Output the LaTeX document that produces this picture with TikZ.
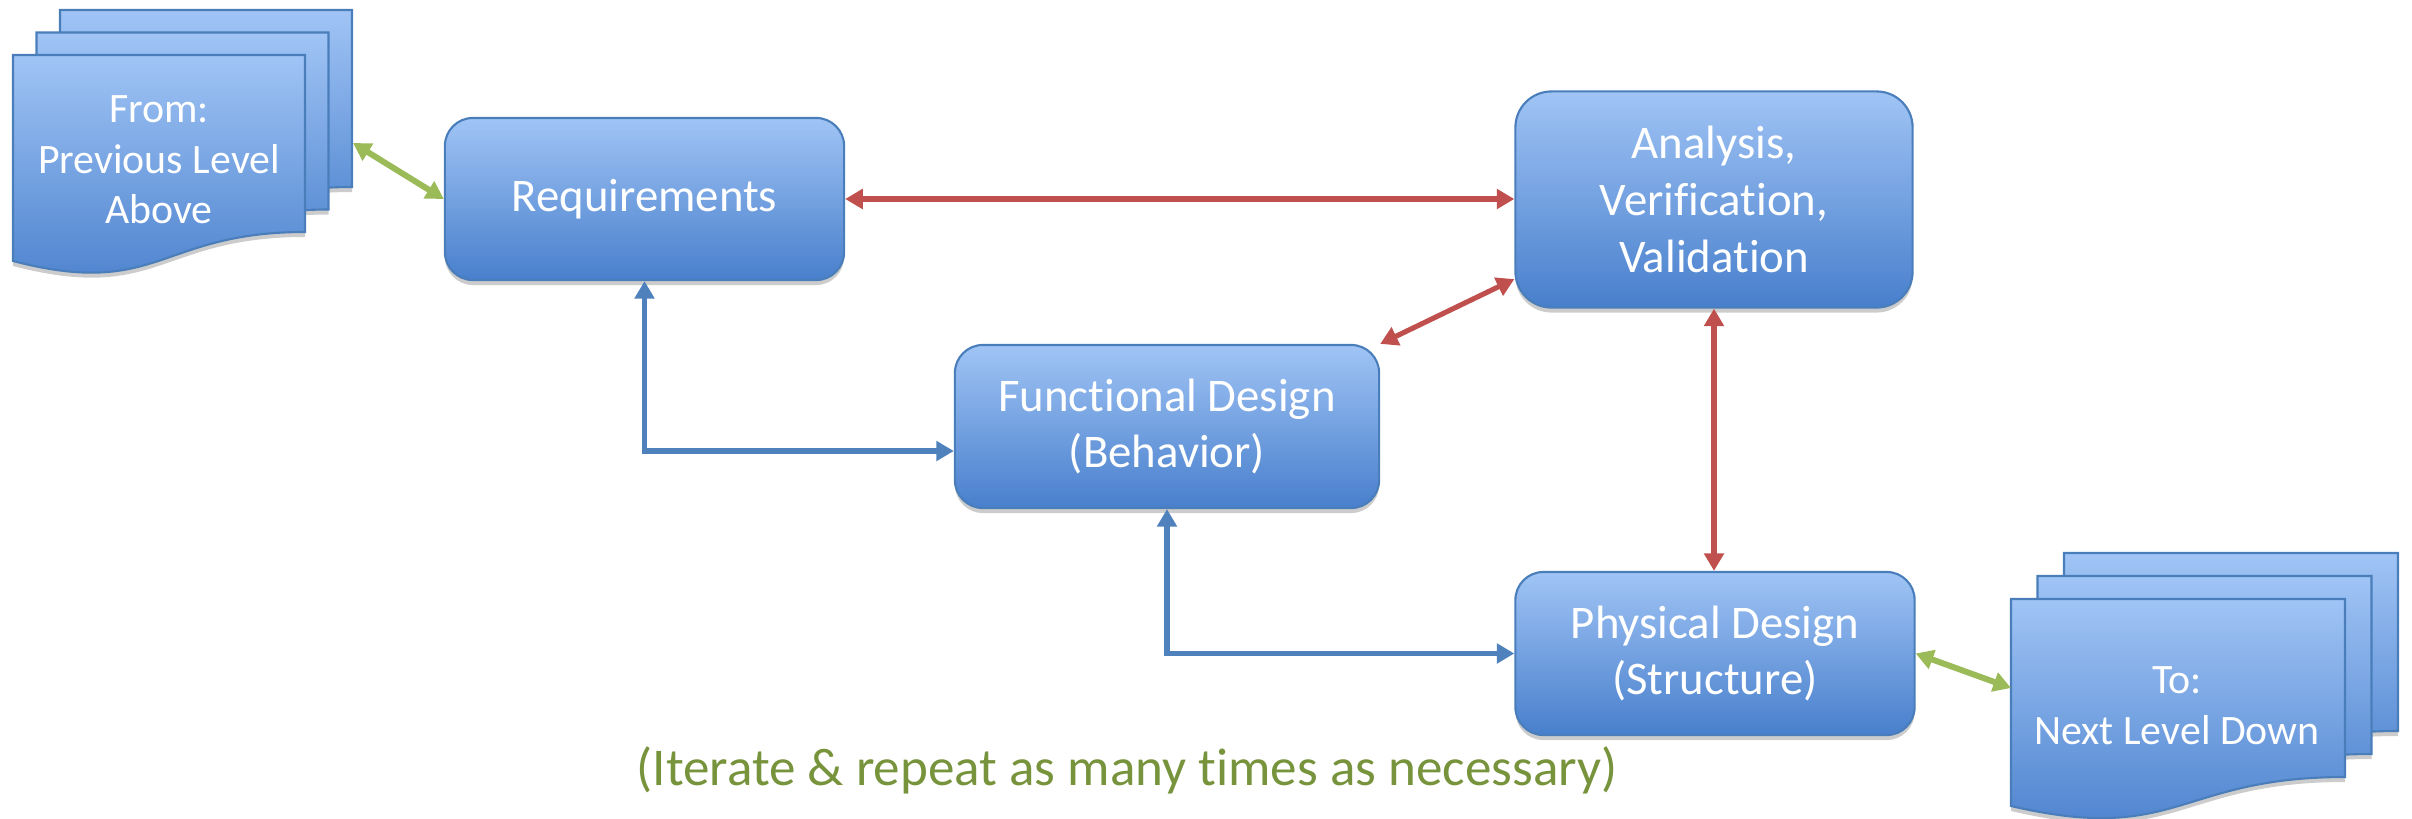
\documentclass[tikz,border=0pt]{standalone}
\usepackage{fontspec}
\setmainfont{Carlito}[Ligatures=NoCommon]
\usetikzlibrary{arrows.meta,shadows}

\definecolor{boxtop}{RGB}{160,196,245}
\definecolor{boxbot}{RGB}{72,127,204}
\definecolor{boxline}{RGB}{74,126,187}
\definecolor{linkred}{RGB}{192,80,77}
\definecolor{linkblue}{RGB}{79,129,189}
\definecolor{linkgreen}{RGB}{155,187,89}
\definecolor{notegreen}{RGB}{119,147,60}

\begin{document}
\begin{tikzpicture}[x=0.01cm, y=-0.01cm]
    \tikzset{
      shade/.style={top color=boxtop, bottom color=boxbot, draw=boxline, line width=0.6pt,
        drop shadow={shadow xshift=0pt, shadow yshift=-0.05cm, opacity=0.2, fill=black}},
      block/.style={shade, rounded corners=0.28cm, text=white, align=center, inner sep=0pt,
        font=\fontsize{13.3}{16.2}\selectfont},
      doctext/.style={text=white, align=center, font=\fontsize{11.9}{14.4}\selectfont},
      tip/.style={{Triangle[length=5pt,width=5.5pt]}-{Triangle[length=5pt,width=5.5pt]}},
      redlink/.style={tip, draw=linkred, line width=1.45pt},
      bluelink/.style={tip, draw=linkblue, line width=1.45pt},
      greenlink/.style={tip, draw=linkgreen, line width=1.7pt},
    }
    \useasboundingbox (0,0) rectangle (2412,818);
    % ===== Stack 1: from the level above =====
    \begin{scope}[shift={(13,55)}]
      \foreach \s in {2,1,0}{
        \draw[shade] ({23.5*\s},{-22.5*\s}) -- ++(292,0) -- ++(0,177)
          .. controls ({23.5*\s+146},{-22.5*\s+177}) and ({23.5*\s+146},{-22.5*\s+244})
          .. ({23.5*\s},{-22.5*\s+206}) -- cycle;
      }
      \node[doctext] (from) at (146,105) {From:\\Previous Level\\Above};
      \coordinate (fromedge) at (340,88);
    \end{scope}
    % ===== Stack 2: to the level below =====
    \begin{scope}[shift={(2011,599)}]
      \foreach \s in {2,1,0}{
        \draw[shade] ({26.5*\s},{-23*\s}) -- ++(334,0) -- ++(0,178)
          .. controls ({26.5*\s+167},{-23*\s+178}) and ({26.5*\s+167},{-23*\s+246})
          .. ({26.5*\s},{-23*\s+207}) -- cycle;
      }
      \node[doctext] (to) at (166,107) {To:\\Next Level Down};
      \coordinate (toedge) at (0,89);
    \end{scope}
    % ===== Boxes =====
    \node[block, minimum width=3.99cm, minimum height=1.62cm] (req) at (644.5,199) {Requirements};
    \node[block, minimum width=3.97cm, minimum height=2.16cm, rounded corners=0.36cm] (ana) at (1714,199.5)
      {Analysis,\\Verification,\\Validation};
    \node[block, minimum width=4.24cm, minimum height=1.63cm] (fun) at (1167,426.5) {Functional Design\\(Behavior)};
    \node[block, minimum width=3.99cm, minimum height=1.63cm] (phy) at (1715,653.5) {Physical Design\\(Structure)};
    % ===== Links =====
    \draw[redlink] (req.east) -- (req.east -| ana.west);
    \draw[redlink] (fun.north east) -- ([yshift=0.295cm]ana.south west);
    \draw[redlink] (ana.south) -- (ana.south |- phy.north);
    \draw[bluelink] (req.south) |- ([yshift=-0.245cm]fun.west);
    \draw[bluelink] (fun.south) |- (phy.west);
    \draw[greenlink] (fromedge) -- (req.west);
    \draw[greenlink] (phy.east) -- (toedge);
    \node[text=notegreen, font=\fontsize{15.1}{18}\selectfont, anchor=base] (iter) at (1127,785)
      {(Iterate \& repeat as many times as necessary)};
\end{tikzpicture}
\end{document}
